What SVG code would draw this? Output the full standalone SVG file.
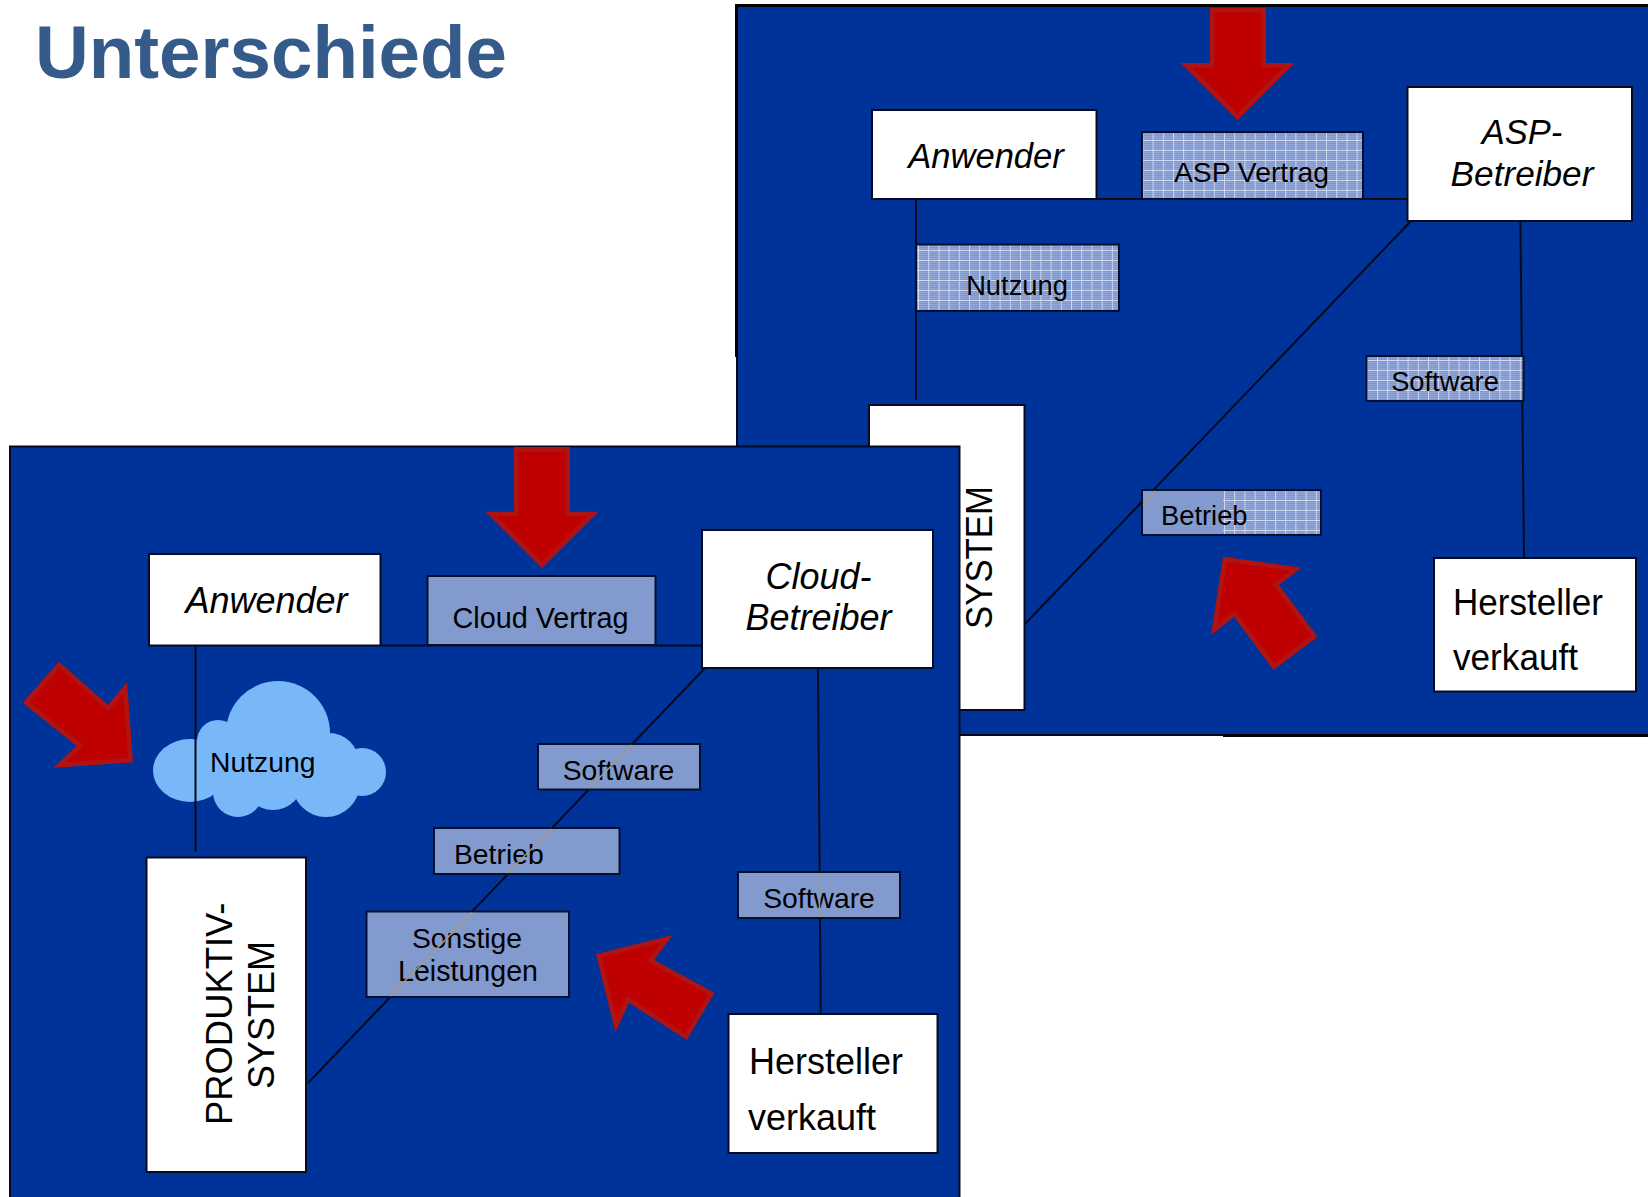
<svg xmlns="http://www.w3.org/2000/svg" width="1648" height="1197" viewBox="0 0 1648 1197">
<style>
text{font-family:"Liberation Sans",Arial,sans-serif;fill:#000}
.panel{fill:#003399;stroke:#05091e;stroke-width:2}
.box{fill:#fff;stroke:#070b1e;stroke-width:2}
.tag{fill:#829ACE;stroke:#06102e;stroke-width:2}
.hatch{fill:url(#grid);stroke:#06102e;stroke-width:2}
.ln{fill:none;stroke:#050a1e;stroke-width:2}
.faint{fill:none;stroke:#a59a80;stroke-width:1.5}
.arrow{fill:#BE0000;stroke:#AE1414;stroke-width:9}
.big{font-size:36px}
.it{font-size:36px;font-style:italic}
.lab{font-size:27.300px}
.lab2{font-size:28.300px}
.mid{text-anchor:middle}
</style>
<defs>
<pattern id="dots" width="2" height="2" patternUnits="userSpaceOnUse"><rect width="2" height="2" fill="#7F97CF"/><rect width="1" height="1" fill="#A2B5E2"/></pattern>
<pattern id="grid" width="10.2" height="10" patternUnits="userSpaceOnUse"><rect width="10.2" height="10" fill="url(#dots)"/><path d="M0 .5H10.2M.5 0V10" stroke="#CFDAF2" stroke-width="1" fill="none"/></pattern>
<polygon id="a1" points="1210,8 1266,8 1266,63 1294.4,63 1237.6,120 1181,63 1210,63"/>
<polygon id="a2" points="1223,556.7 1301.6,567.7 1279,585 1317.500,636.7 1273.5,670 1234,616.7 1211,635.3"/>
<polygon id="a3" points="514,447 570,447 570,511.7 598.5,511.7 542,568 485.7,511.7 514,511.7"/>
<polygon id="a4" points="59,661.7 108,705 127,682.3 133,762.3 53.3,767.7 76.7,746 22.7,702.7"/>
<polygon id="a5" points="596,954.3 672.6,935 654,960 714.500,992.7 686.8,1040 629,1002.7 615.5,1032"/>
<clipPath id="c1"><use href="#a1"/></clipPath>
<clipPath id="c2"><use href="#a2"/></clipPath>
<clipPath id="c3"><use href="#a3"/></clipPath>
<clipPath id="c4"><use href="#a4"/></clipPath>
<clipPath id="c5"><use href="#a5"/></clipPath>
</defs>
<rect width="1648" height="1197" fill="#fff"/>
<text id="title" x="35" y="78" font-size="74.5" font-weight="700" style="fill:#355B8B">Unterschiede</text>

<rect id="panel-asp" class="panel" x="737" y="6" width="920" height="729"/>
<path d="M1223 735.5H1648M1648 5.500H736.500V357" fill="none" stroke="#000" stroke-width="3"/>
<g id="connectors-asp">
<path class="ln" d="M1096 199H1407M916 199V400M1411 221L1025 624M1520.4 221L1524 558"/>
</g>
<g id="asp-anwender"><rect class="box" x="872" y="110" width="224.500" height="89"/><text class="it mid" x="986" y="168" font-size="34.600" style="font-size:34.600px">Anwender</text></g>
<g id="asp-vertrag"><rect class="hatch" x="1142" y="132" width="221" height="67"/><text class="lab2 mid" x="1251.500" y="182">ASP Vertrag</text></g>
<g id="asp-betreiber"><rect class="box" x="1407.500" y="87" width="224.500" height="134"/><text class="it mid" x="1522" y="144" style="font-size:34.500px">ASP-</text><text class="it mid" x="1522" y="186" style="font-size:35.200px">Betreiber</text></g>
<g id="asp-nutzung"><rect class="hatch" x="916" y="244.500" width="203" height="66.500"/><text class="lab mid" x="1017" y="295">Nutzung</text></g>
<g id="asp-system"><rect class="box" x="869" y="405" width="155.500" height="305"/><text class="big" transform="translate(992 629) rotate(-90)" textLength="143" lengthAdjust="spacingAndGlyphs">SYSTEM</text></g>
<g id="asp-software"><rect class="hatch" x="1366.500" y="356" width="157" height="45"/><text class="lab mid" x="1445" y="391">Software</text></g>
<g id="asp-betrieb"><rect class="hatch" x="1142" y="490" width="179" height="45"/><rect x="1143" y="491" width="80" height="43" fill="#829ACE"/><path class="faint" d="M1155 491L1143 506"/><text class="lab" x="1161" y="525">Betrieb</text></g>
<g id="asp-hersteller"><rect class="box" x="1434" y="558" width="202" height="133.500"/><text class="big" x="1453" y="615" textLength="150" lengthAdjust="spacingAndGlyphs">Hersteller</text><text class="big" x="1453" y="670" textLength="125" lengthAdjust="spacingAndGlyphs">verkauft</text></g>
<g id="arrow-asp-1"><use href="#a1" class="arrow" clip-path="url(#c1)"/></g>
<g id="arrow-asp-2"><use href="#a2" class="arrow" clip-path="url(#c2)"/></g>

<rect id="panel-cloud" class="panel" x="10" y="446.500" width="949.500" height="760"/>
<g id="cloud-nutzung">
<g fill="#79B8F8"><ellipse cx="190" cy="770.500" rx="37" ry="31.500"/><circle cx="278" cy="733" r="52"/><circle cx="218" cy="741" r="21"/><circle cx="362" cy="772" r="24"/><circle cx="238" cy="792" r="25"/><circle cx="273" cy="780" r="30"/><circle cx="326" cy="783" r="34"/><circle cx="329" cy="763" r="30"/><rect x="195" y="745" width="140" height="45"/></g>
<text class="lab2" x="210" y="772">Nutzung</text>
</g>
<g id="connectors-cloud">
<path class="ln" d="M381 645.500H702M195.500 645V852M705 668L308 1083M818 668L820.800 1014"/>
</g>
<g id="cloud-anwender"><rect class="box" x="149" y="554" width="231.500" height="91.500"/><text class="it mid" x="266.500" y="613">Anwender</text></g>
<g id="cloud-vertrag"><rect class="tag" x="427.500" y="576" width="228" height="69"/><text class="lab2 mid" x="540.500" y="628" style="font-size:28.800px">Cloud Vertrag</text></g>
<g id="cloud-betreiber"><rect class="box" x="702" y="530" width="231" height="138"/><text class="it mid" x="818.500" y="589">Cloud-</text><text class="it mid" x="818.500" y="630">Betreiber</text></g>
<g id="cloud-software-1"><rect class="tag" x="538" y="744" width="162" height="45.500"/><text class="lab2 mid" x="618.500" y="780">Software</text></g>
<g id="cloud-betrieb"><rect class="tag" x="434" y="828" width="185.500" height="46"/><text class="lab2" x="454" y="864">Betrieb</text></g>
<g id="cloud-sonstige"><rect class="tag" x="366.500" y="911.500" width="202.500" height="85.500"/><text class="lab2 mid" x="467" y="948">Sonstige</text><text class="lab2 mid" x="468" y="981" style="font-size:28.600px">Leistungen</text></g>
<g id="cloud-software-2"><rect class="tag" x="738" y="872" width="162" height="46"/><text class="lab2 mid" x="819" y="908">Software</text></g>
<path class="faint" d="M632.300 745L589 788M552 829L507 873M472.400 912.500L390 996M819.500 873V917"/>
<g id="cloud-system"><rect class="box" x="146.500" y="857.500" width="159.500" height="314.500"/><text class="big" transform="translate(232 1125) rotate(-90)" style="font-size:36.400px">PRODUKTIV-</text><text class="big" transform="translate(274 1089) rotate(-90)">SYSTEM</text></g>
<g id="cloud-hersteller"><rect class="box" x="728.500" y="1014" width="209" height="139"/><text class="big" x="749" y="1074" textLength="154" lengthAdjust="spacingAndGlyphs">Hersteller</text><text class="big" x="748" y="1130" textLength="128" lengthAdjust="spacingAndGlyphs">verkauft</text></g>
<g id="arrow-cloud-1"><use href="#a3" class="arrow" clip-path="url(#c3)"/></g>
<g id="arrow-cloud-2"><use href="#a4" class="arrow" clip-path="url(#c4)"/></g>
<g id="arrow-cloud-3"><use href="#a5" class="arrow" clip-path="url(#c5)"/></g>
</svg>
